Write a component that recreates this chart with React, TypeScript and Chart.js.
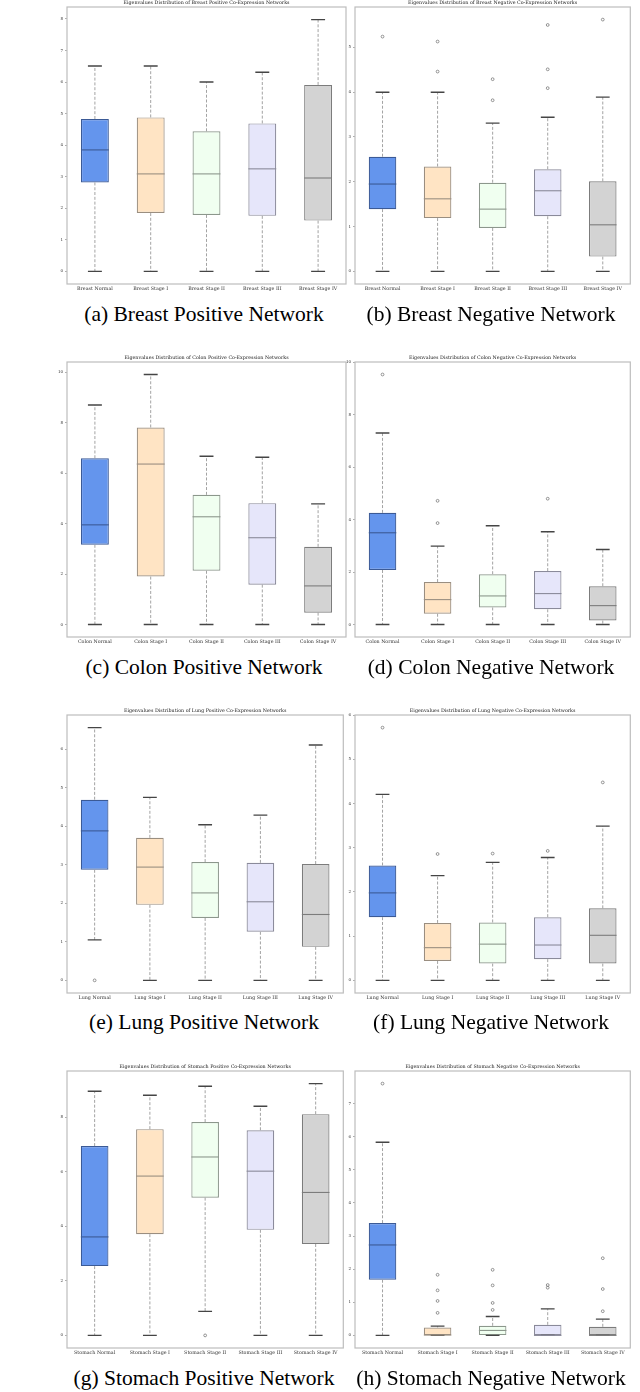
import React, { useEffect, useRef } from 'react';
import { Chart, registerables } from 'chart.js';

Chart.register(...registerables);

// ---------- shared categories / styles ----------
const stageNames = ['Normal', 'Stage I', 'Stage II', 'Stage III', 'Stage IV'];
const boxFills = ['#6495ED', '#FFE4C4', '#F0FFF0', '#E6E6FA', '#D3D3D3'];
const boxEdges = ['#3b5a96', '#9a8e80', '#8c978c', '#8a8a9a', '#7c7c7c'];

// ---------- (a) Breast Positive ----------
const breastPosLow = [0, 0, 0, 0, 0];
const breastPosQ1 = [2.82, 1.85, 1.79, 1.76, 1.61];
const breastPosMed = [3.85, 3.09, 3.09, 3.25, 2.96];
const breastPosQ3 = [4.83, 4.88, 4.44, 4.69, 5.91];
const breastPosHigh = [6.51, 6.51, 6.0, 6.31, 7.98];
const breastPosOut: number[][] = [[], [], [], [], []];
const breastPosTicks = [0, 1, 2, 3, 4, 5, 6, 7, 8];

// ---------- (b) Breast Negative ----------
const breastNegLow = [0, 0, 0, 0, 0];
const breastNegQ1 = [1.39, 1.19, 0.97, 1.23, 0.33];
const breastNegMed = [1.95, 1.62, 1.39, 1.8, 1.04];
const breastNegQ3 = [2.56, 2.34, 1.98, 2.28, 2.01];
const breastNegHigh = [4.0, 4.0, 3.31, 3.44, 3.89];
const breastNegOut: number[][] = [[5.24], [5.13, 4.46], [4.29, 3.82], [5.5, 4.51, 4.09], [5.62]];
const breastNegTicks = [0, 1, 2, 3, 4, 5];

// ---------- (c) Colon Positive ----------
const colonPosLow = [0, 0, 0, 0, 0];
const colonPosQ1 = [3.16, 1.9, 2.13, 1.58, 0.47];
const colonPosMed = [3.95, 6.36, 4.27, 3.44, 1.53];
const colonPosQ3 = [6.59, 7.81, 5.14, 4.81, 3.08];
const colonPosHigh = [8.7, 9.91, 6.67, 6.63, 4.78];
const colonPosOut: number[][] = [[], [], [], [], []];
const colonPosTicks = [0, 2, 4, 6, 8, 10];

// ---------- (d) Colon Negative ----------
const colonNegLow = [0, 0, 0, 0, 0];
const colonNegQ1 = [2.08, 0.41, 0.65, 0.58, 0.15];
const colonNegMed = [3.5, 0.95, 1.09, 1.18, 0.72];
const colonNegQ3 = [4.26, 1.62, 1.92, 2.04, 1.46];
const colonNegHigh = [7.31, 2.99, 3.77, 3.54, 2.86];
const colonNegOut: number[][] = [[9.54], [4.72, 3.87], [], [4.8], []];
const colonNegTicks = [0, 2, 4, 6, 8, 10];

// ---------- (e) Lung Positive ----------
const lungPosLow = [1.05, 0, 0, 0, 0];
const lungPosQ1 = [2.87, 1.96, 1.62, 1.26, 0.87];
const lungPosMed = [3.88, 2.94, 2.27, 2.04, 1.71];
const lungPosQ3 = [4.69, 3.7, 3.07, 3.05, 3.02];
const lungPosHigh = [6.56, 4.75, 4.04, 4.29, 6.11];
const lungPosOut: number[][] = [[0], [], [], [], []];
const lungPosTicks = [0, 1, 2, 3, 4, 5, 6];

// ---------- (f) Lung Negative ----------
const lungNegLow = [0, 0, 0, 0, 0];
const lungNegQ1 = [1.43, 0.44, 0.38, 0.48, 0.38];
const lungNegMed = [1.98, 0.74, 0.82, 0.8, 1.02];
const lungNegQ3 = [2.6, 1.3, 1.31, 1.43, 1.63];
const lungNegHigh = [4.21, 2.37, 2.67, 2.78, 3.49];
const lungNegOut: number[][] = [[5.72], [2.86], [2.87], [2.93], [4.48]];
const lungNegTicks = [0, 1, 2, 3, 4, 5, 6];

// ---------- (g) Stomach Positive ----------
const stomachPosLow = [0, 0, 0.88, 0, 0];
const stomachPosQ1 = [2.54, 3.71, 5.05, 3.87, 3.35];
const stomachPosMed = [3.61, 5.84, 6.54, 6.02, 5.24];
const stomachPosQ3 = [6.94, 7.56, 7.82, 7.52, 8.11];
const stomachPosHigh = [8.95, 8.8, 9.13, 8.4, 9.23];
const stomachPosOut: number[][] = [[], [], [0], [], []];
const stomachPosTicks = [0, 2, 4, 6, 8];

// ---------- (h) Stomach Negative ----------
const stomachNegLow = [0, 0, 0, 0, 0];
const stomachNegQ1 = [1.68, 0, 0, 0, 0];
const stomachNegMed = [2.73, 0.01, 0.15, 0.0, 0.0];
const stomachNegQ3 = [3.39, 0.24, 0.29, 0.32, 0.26];
const stomachNegHigh = [5.83, 0.28, 0.57, 0.8, 0.49];
const stomachNegOut: number[][] = [[7.6], [1.83, 1.36, 1.04, 0.68], [1.98, 1.51, 0.98, 0.77], [1.52, 1.44], [2.33, 1.4, 0.73]];
const stomachNegTicks = [0, 1, 2, 3, 4, 5, 6, 7];

// ---------- layout (frames in page pixels) ----------
const rowFrames = [
  [7, 284],
  [362, 637],
  [715, 993],
  [1071, 1348],
];
const colFrames = [
  [67, 346],
  [355, 633],
];
const captionRowY = [314, 667, 1022, 1378];
const captionColX = [204, 491];

type PanelDef = {
  organ: string;
  sign: string;
  letter: string;
  low: number[];
  q1: number[];
  med: number[];
  q3: number[];
  high: number[];
  out: number[][];
  ticks: number[];
  row: number;
  col: number;
};

const panels: PanelDef[] = [
  { organ: 'Breast', sign: 'Positive', letter: 'a', low: breastPosLow, q1: breastPosQ1, med: breastPosMed, q3: breastPosQ3, high: breastPosHigh, out: breastPosOut, ticks: breastPosTicks, row: 0, col: 0 },
  { organ: 'Breast', sign: 'Negative', letter: 'b', low: breastNegLow, q1: breastNegQ1, med: breastNegMed, q3: breastNegQ3, high: breastNegHigh, out: breastNegOut, ticks: breastNegTicks, row: 0, col: 1 },
  { organ: 'Colon', sign: 'Positive', letter: 'c', low: colonPosLow, q1: colonPosQ1, med: colonPosMed, q3: colonPosQ3, high: colonPosHigh, out: colonPosOut, ticks: colonPosTicks, row: 1, col: 0 },
  { organ: 'Colon', sign: 'Negative', letter: 'd', low: colonNegLow, q1: colonNegQ1, med: colonNegMed, q3: colonNegQ3, high: colonNegHigh, out: colonNegOut, ticks: colonNegTicks, row: 1, col: 1 },
  { organ: 'Lung', sign: 'Positive', letter: 'e', low: lungPosLow, q1: lungPosQ1, med: lungPosMed, q3: lungPosQ3, high: lungPosHigh, out: lungPosOut, ticks: lungPosTicks, row: 2, col: 0 },
  { organ: 'Lung', sign: 'Negative', letter: 'f', low: lungNegLow, q1: lungNegQ1, med: lungNegMed, q3: lungNegQ3, high: lungNegHigh, out: lungNegOut, ticks: lungNegTicks, row: 2, col: 1 },
  { organ: 'Stomach', sign: 'Positive', letter: 'g', low: stomachPosLow, q1: stomachPosQ1, med: stomachPosMed, q3: stomachPosQ3, high: stomachPosHigh, out: stomachPosOut, ticks: stomachPosTicks, row: 3, col: 0 },
  { organ: 'Stomach', sign: 'Negative', letter: 'h', low: stomachNegLow, q1: stomachNegQ1, med: stomachNegMed, q3: stomachNegQ3, high: stomachNegHigh, out: stomachNegOut, ticks: stomachNegTicks, row: 3, col: 1 },
];

const Y_AXIS_W = 30;
const X_AXIS_H = 14;
const TOP_SPACE = 8;
const RIGHT_PAD = 2;
const smallFont = 'DejaVu Serif';

function BoxPanel({ p }: { p: PanelDef }) {
  const ref = useRef<HTMLCanvasElement>(null);
  const [fl, fr] = colFrames[p.col];
  const [ft, fb] = rowFrames[p.row];
  const cw = fr - fl + Y_AXIS_W + RIGHT_PAD;
  const ch = fb - ft + TOP_SPACE + X_AXIS_H;

  useEffect(() => {
    const canvas = ref.current;
    if (!canvas) return;
    const labels = stageNames.map((s) => `${p.organ} ${s}`);
    const all = [...p.low, ...p.high, ...p.out.flat()];
    const dmin = Math.min(...all);
    const dmax = Math.max(...all);
    const pad = (dmax - dmin) * 0.05;
    const yMin = dmin - pad;
    const yMax = dmax + pad;
    const tickVals = p.ticks.filter((v) => v >= yMin - 1e-9 && v <= yMax + 1e-9);

    const framePlugin = {
      id: 'frameBox',
      beforeDatasetsDraw(chart: any) {
        const { ctx, chartArea } = chart;
        ctx.save();
        ctx.strokeStyle = '#bdbdbd';
        ctx.lineWidth = 1.2;
        ctx.strokeRect(chartArea.left, chartArea.top, chartArea.right - chartArea.left, chartArea.bottom - chartArea.top);
        ctx.restore();
      },
    };

    const whiskerPlugin = {
      id: 'boxWhiskers',
      afterDatasetsDraw(chart: any) {
        const ctx = chart.ctx;
        const ys = chart.scales.y;
        const meta = chart.getDatasetMeta(0);
        ctx.save();
        meta.data.forEach((bar: any, i: number) => {
          const cx = bar.x;
          const hw = bar.width / 2;
          const yLow = ys.getPixelForValue(p.low[i]);
          const yQ1 = ys.getPixelForValue(p.q1[i]);
          const yMed = ys.getPixelForValue(p.med[i]);
          const yQ3 = ys.getPixelForValue(p.q3[i]);
          const yHigh = ys.getPixelForValue(p.high[i]);
          // whiskers (dashed)
          ctx.setLineDash([3, 1.8]);
          ctx.strokeStyle = '#999999';
          ctx.lineWidth = 0.9;
          ctx.beginPath();
          ctx.moveTo(cx, yQ1);
          ctx.lineTo(cx, yLow);
          ctx.moveTo(cx, yQ3);
          ctx.lineTo(cx, yHigh);
          ctx.stroke();
          // caps
          ctx.setLineDash([]);
          ctx.strokeStyle = '#454545';
          ctx.lineWidth = 1.4;
          ctx.beginPath();
          ctx.moveTo(cx - hw / 2, yLow);
          ctx.lineTo(cx + hw / 2, yLow);
          ctx.moveTo(cx - hw / 2, yHigh);
          ctx.lineTo(cx + hw / 2, yHigh);
          ctx.stroke();
          // median
          ctx.strokeStyle = boxEdges[i];
          ctx.lineWidth = 1.1;
          ctx.beginPath();
          ctx.moveTo(cx - hw, yMed);
          ctx.lineTo(cx + hw, yMed);
          ctx.stroke();
        });
        ctx.restore();
      },
    };

    const outlierData = p.out.flatMap((arr, i) => arr.map((v) => ({ x: labels[i], y: v })));

    const chart = new Chart(canvas, {
      type: 'bar',
      data: {
        labels,
        datasets: [
          {
            type: 'bar',
            data: p.q1.map((v, i) => [v, p.q3[i]]) as any,
            backgroundColor: boxFills,
            borderColor: boxEdges,
            borderWidth: 1.2,
            borderSkipped: false,
            categoryPercentage: 1,
            barPercentage: 0.5,
          } as any,
          {
            type: 'line',
            data: outlierData as any,
            showLine: false,
            pointStyle: 'circle',
            pointRadius: 1.4,
            pointBorderWidth: 0.7,
            pointBorderColor: '#6a6a6a',
            pointBackgroundColor: 'rgba(255,255,255,0)',
          } as any,
        ],
      },
      options: {
        responsive: false,
        animation: false,
        events: [],
        layout: { padding: { top: 1, right: RIGHT_PAD, bottom: 0, left: 0 } },
        plugins: {
          legend: { display: false },
          tooltip: { enabled: false },
          title: {
            display: true,
            fullSize: false,
            text: `Eigenvalues Distribution of ${p.organ} ${p.sign} Co-Expression Networks`,
            color: '#222',
            font: { family: smallFont, size: 4.8, weight: 'normal', lineHeight: 1.25 },
            padding: { top: 0, bottom: 1 },
          },
        },
        scales: {
          x: {
            type: 'category',
            offset: true,
            grid: { display: false, drawTicks: false },
            border: { display: false },
            ticks: {
              color: '#333',
              font: { family: smallFont, size: 4.8 },
              padding: 2,
              maxRotation: 0,
              autoSkip: false,
            },
            afterFit: (s: any) => {
              s.height = X_AXIS_H;
            },
          },
          y: {
            type: 'linear',
            min: yMin,
            max: yMax,
            grid: { display: true, drawOnChartArea: false, drawTicks: true, tickLength: 2, color: '#777', lineWidth: 0.6 },
            border: { display: false },
            ticks: {
              color: '#333',
              font: { family: smallFont, size: 4 },
              padding: 2,
            },
            afterBuildTicks: (s: any) => {
              s.ticks = tickVals.map((v) => ({ value: v }));
            },
            afterFit: (s: any) => {
              s.width = Y_AXIS_W;
            },
          },
        },
      } as any,
      plugins: [framePlugin, whiskerPlugin],
    });
    return () => chart.destroy();
  }, []);

  return (
    <canvas
      ref={ref}
      width={cw}
      height={ch}
      style={{
        position: 'absolute',
        left: fl - Y_AXIS_W,
        top: ft - TOP_SPACE,
        width: cw,
        height: ch,
      }}
    />
  );
}

export default function App() {
  return (
    <div
      style={{
        position: 'absolute',
        left: 0,
        top: 0,
        width: 640,
        height: 1392,
        background: '#fff',
        overflow: 'hidden',
      }}
    >
      {panels.map((p) => (
        <BoxPanel key={p.letter} p={p} />
      ))}
      {panels.map((p) => (
        <div
          key={'cap' + p.letter}
          style={{
            position: 'absolute',
            left: captionColX[p.col] - 160,
            width: 320,
            top: captionRowY[p.row] - 12,
            height: 24,
            lineHeight: '24px',
            textAlign: 'center',
            fontFamily: '"Liberation Serif", "Times New Roman", serif',
            fontSize: 21.5,
            color: '#000',
            whiteSpace: 'nowrap',
          }}
        >
          ({p.letter}) {p.organ} {p.sign} Network
        </div>
      ))}
    </div>
  );
}
